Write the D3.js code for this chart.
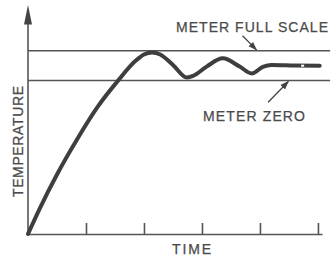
<!DOCTYPE html>
<html>
<head>
<meta charset="utf-8">
<script src="https://cdn.jsdelivr.net/npm/d3@7"></script>
<style>
  body { margin: 0; background: #fff; }
  text { font-family: "Liberation Sans", Arial, sans-serif; fill: #4a4a4a; stroke: #4a4a4a; stroke-width: 0.25px; }
</style>
</head>
<body>
<div id="chart"></div>
<script>
// tiempo (unidades de tick) y temperatura
const tiempo = [0, 0.2, 0.5, 0.85, 1.2, 1.56, 1.85, 2.0, 2.14, 2.28, 2.5, 2.74, 2.86, 3.08, 3.36, 3.65, 3.86, 4.05, 4.2, 4.6, 5.03];
const temperatura = [0, 11, 26, 41.5, 55.5, 67.2, 75.5, 78.4, 79.3, 78.4, 73.8, 68.3, 69.2, 73.1, 76.7, 73.1, 70.1, 73.0, 73.8, 73.6, 73.5];
const ticksTiempo = [1, 2, 3, 4, 5];
const niveles = [
  { nombre: "METER FULL SCALE", valor: 80 },
  { nombre: "METER ZERO", valor: 67 }
];

const ancho = 333, alto = 258;

const SVG = d3.select("#chart")
  .append("svg")
  .attr("width", ancho)
  .attr("height", alto);

const escalaX = d3.scaleLinear()
  .domain([0, 5.07])
  .range([28, 322]);

const escalaY = d3.scaleLinear()
  .domain([0, 100])
  .range([234, 5]);

const gris = "#555";

// lineas del medidor
SVG.selectAll("line.nivel")
  .data(niveles)
  .join("line")
  .attr("class", "nivel")
  .attr("x1", escalaX(0))
  .attr("x2", escalaX(5.21))
  .attr("y1", d => escalaY(d.valor))
  .attr("y2", d => escalaY(d.valor))
  .attr("stroke", gris)
  .attr("stroke-width", 1.4);

// eje X con ticks hacia arriba
const ejeX = SVG.append("g")
  .attr("transform", `translate(0, ${escalaY(0)})`)
  .call(d3.axisBottom(escalaX).tickValues(ticksTiempo).tickSize(-11).tickSizeOuter(0).tickFormat(""));
ejeX.select(".domain").attr("stroke", gris).attr("stroke-width", 1.6);
ejeX.selectAll(".tick line").attr("stroke", gris).attr("stroke-width", 1.6);

// eje Y con flecha
SVG.append("line")
  .attr("x1", escalaX(0)).attr("x2", escalaX(0))
  .attr("y1", escalaY(0)).attr("y2", escalaY(92))
  .attr("stroke", gris)
  .attr("stroke-width", 1.6);
SVG.append("path")
  .attr("d", `M${escalaX(0)},${escalaY(100)} L${escalaX(0) + 4},${escalaY(91.5)} L${escalaX(0) - 4},${escalaY(91.5)} Z`)
  .attr("fill", "#444");

// curva de temperatura
const puntos = tiempo.map((t, i) => [t, temperatura[i]]);
const linea = d3.line()
  .x(d => escalaX(d[0]))
  .y(d => escalaY(d[1]))
  .curve(d3.curveMonotoneX);

SVG.append("path")
  .datum(puntos)
  .attr("d", linea)
  .attr("fill", "none")
  .attr("stroke", "#3e3e3e")
  .attr("stroke-width", 4)
  .attr("stroke-linecap", "round");

// pequeño corte blanco en la curva
SVG.append("rect")
  .attr("x", escalaX(4.71))
  .attr("y", escalaY(73.5) - 1)
  .attr("width", 3)
  .attr("height", 2)
  .attr("fill", "#fff");

// flechas de anotacion
SVG.append("defs").append("marker")
  .attr("id", "punta")
  .attr("viewBox", "0 0 10 10")
  .attr("refX", 9).attr("refY", 5)
  .attr("markerWidth", 9).attr("markerHeight", 9)
  .attr("markerUnits", "userSpaceOnUse")
  .attr("orient", "auto")
  .append("path")
  .attr("d", "M0,1.5 L10,5 L0,8.5 Z")
  .attr("fill", "#444");

const flechas = [
  { t1: 3.70, v1: 86.6, t2: 3.94, v2: 80.4 },
  { t1: 4.14, v1: 57.5, t2: 4.49, v2: 66.6 }
];
SVG.selectAll("line.flecha")
  .data(flechas)
  .join("line")
  .attr("class", "flecha")
  .attr("x1", d => escalaX(d.t1)).attr("y1", d => escalaY(d.v1))
  .attr("x2", d => escalaX(d.t2)).attr("y2", d => escalaY(d.v2))
  .attr("stroke", "#444")
  .attr("stroke-width", 1.3)
  .attr("marker-end", "url(#punta)");

// textos
const textos = [
  { texto: "METER FULL SCALE", x: 176, y: 32, largo: 152 },
  { texto: "METER ZERO", x: 203, y: 120.5, largo: 102 },
  { texto: "TIME", x: 172, y: 253.5, largo: 39 }
];
SVG.selectAll("text.etiqueta")
  .data(textos)
  .join("text")
  .attr("class", "etiqueta")
  .attr("x", d => d.x)
  .attr("y", d => d.y)
  .attr("textLength", d => d.largo)
  .attr("lengthAdjust", "spacing")
  .style("font-size", "14px")
  .text(d => d.texto);

SVG.append("text")
  .attr("transform", "translate(23, 197) rotate(-90)")
  .attr("textLength", 111)
  .attr("lengthAdjust", "spacing")
  .style("font-size", "14px")
  .text("TEMPERATURE");
</script>
</body>
</html>
